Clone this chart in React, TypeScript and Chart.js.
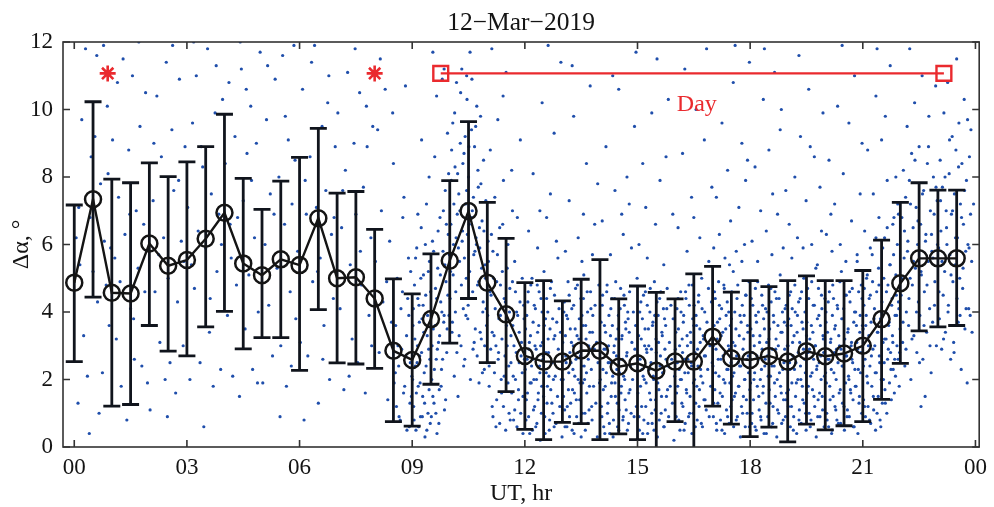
import React, { useEffect, useRef } from "react";
import { Chart, registerables } from "chart.js";

Chart.register(...registerables);

// ---- data ----
const hours = [
  0, 0.5, 1, 1.5, 2, 2.5, 3, 3.5, 4, 4.5, 5, 5.5, 6, 6.5, 7, 7.5, 8, 8.5, 9, 9.5, 10, 10.5, 11, 11.5,
  12, 12.5, 13, 13.5, 14, 14.5, 15, 15.5, 16, 16.5, 17, 17.5, 18, 18.5, 19, 19.5, 20, 20.5, 21, 21.5,
  22, 22.5, 23, 23.5,
];
const meanValues = [
  4.87, 7.34, 4.57, 4.55, 6.03, 5.37, 5.54, 6.17, 6.94, 5.44, 5.09, 5.56, 5.39, 6.78, 5.0, 5.03, 4.4, 2.85,
  2.58, 3.79, 5.52, 6.99, 4.87, 3.93, 2.7, 2.53, 2.53, 2.86, 2.85, 2.38, 2.48, 2.26, 2.53, 2.53, 3.27, 2.63,
  2.58, 2.7, 2.53, 2.84, 2.69, 2.77, 3.0, 3.79, 4.85, 5.59, 5.59, 5.59,
];
const upperValues = [
  7.17, 10.23, 7.94, 7.83, 8.42, 8.01, 8.45, 8.9, 9.86, 7.96, 7.04, 7.88, 8.58, 9.44, 7.52, 7.57, 6.45, 4.98,
  4.54, 5.72, 7.89, 9.64, 7.25, 6.18, 4.87, 4.93, 4.33, 4.97, 5.55, 4.39, 4.77, 4.58, 4.39, 5.13, 5.35, 4.59,
  4.93, 4.75, 4.93, 5.07, 4.93, 4.93, 5.23, 6.13, 7.25, 7.83, 7.61, 7.61,
];
const lowerValues = [
  2.53, 4.44, 1.21, 1.26, 3.6, 2.84, 2.7, 3.56, 4.02, 2.91, 3.24, 3.24, 2.27, 4.07, 2.49, 2.46, 2.33, 0.75,
  0.62, 1.86, 3.08, 4.4, 2.5, 1.64, 0.52, 0.22, 0.73, 0.69, 0.22, 0.39, 0.22, -0.5, 0.75, -0.5, 1.21, 0.68,
  0.31, 0.59, 0.15, 0.68, 0.51, 0.63, 0.75, 1.41, 2.48, 3.44, 3.56, 3.6,
];
const xTickValues = [0, 3, 6, 9, 12, 15, 18, 21, 24];
const xTickLabels = ["00", "03", "06", "09", "12", "15", "18", "21", "00"];
const yTickValues = [0, 2, 4, 6, 8, 10, 12];
const starHours = [0.89, 8.0];
const starLevel = 11.07;
const dayHours = [9.76, 23.16];
const dayLevel = 11.07;
const dayLabelX = 16.58;
const dayLabelY = 10.13;
const dayLabelText = "Day";
const titleText = "12\u2212Mar\u22122019";
const xTitleText = "UT, hr";
const yTitleText = "\u0394\u03b1, \u00b0";

// individual samples, one string per UT hour: "hundredths-of-hour:value"
const samplesByHour = [
  "5:6.2 10:1.3 15:5.4 20:9.7 25:3.3 30:11.8 35:2.1 40:0.4 45:8.6 50:5.2 55:9.2 60:11.6 62:4.3 70:7.8 75:2.2 78:11.9 80:6.1 85:4.8 90:8.1 93:3.6 97:5.9 12:7.1 42:6.8 66:1.0 88:10.1",
  "2:9.1 8:5.6 12:3.2 18:7.4 25:1.8 30:11.5 35:6.3 40:0.8 45:8.8 50:4.1 55:11.0 60:2.6 65:7.0 70:5.3 75:9.5 80:2.4 85:6.6 90:10.5 95:1.9 22:4.9 58:3.8 72:12.0 88:4.6 15:10.8 48:6.9",
  "2:1.1 10:7.3 15:4.6 20:10.4 28:3.1 32:8.6 38:6.2 45:11.4 50:5.0 55:2.5 60:9.4 65:7.6 70:1.6 75:4.3 80:10.9 85:6.1 90:3.0 95:8.9 25:5.7 42:2.0 62:11.9 78:7.9 92:5.5 12:9.0 48:0.9",
  "2:7.1 8:2.0 15:9.6 20:4.7 25:11.0 30:6.4 35:2.5 42:8.3 50:5.9 55:11.8 60:3.4 65:7.5 70:1.8 75:9.9 80:5.2 85:6.9 90:2.3 95:10.3 12:5.4 38:8.9 62:4.4 78:11.3 92:6.0 45:0.6 18:12.0",
  "2:8.4 8:3.9 12:10.8 18:5.6 22:2.1 28:9.2 35:6.8 40:1.5 45:11.2 50:7.3 55:3.5 60:8.7 65:5.1 70:10.1 75:2.3 80:6.2 85:9.0 90:4.0 95:11.7 32:4.8 58:10.6 72:7.9 88:1.9 15:6.6 42:12.0",
  "2:1.9 8:6.0 12:9.7 18:4.2 22:7.5 28:2.7 35:10.9 40:5.3 45:8.0 50:3.0 55:11.6 60:6.6 65:1.8 70:9.1 75:4.6 80:7.2 85:11.9 90:3.8 95:5.8 32:6.9 48:0.9 62:9.8 78:2.4 15:11.3 88:8.5",
  "2:3.1 8:10.6 12:0.8 18:6.9 22:2.7 28:8.6 35:4.9 40:11.9 45:7.1 50:1.3 55:5.6 60:9.5 65:3.6 70:7.6 75:10.2 80:2.0 85:6.3 90:4.4 95:8.9 32:11.4 48:5.2 62:2.6 78:11.0 92:6.8 15:7.9",
  "2:9.9 8:4.1 12:6.5 18:1.7 22:8.2 28:11.1 35:5.4 40:3.2 45:9.0 50:6.9 55:2.5 60:10.5 65:4.8 70:7.7 75:1.6 80:8.9 85:3.9 90:6.2 95:9.5 32:2.1 48:11.8 62:5.8 78:10.1 92:3.0 15:7.6",
  "2:5.5 8:9.4 12:2.8 18:7.0 22:4.3 28:10.6 35:1.4 40:6.1 45:3.7 50:8.4 55:2.2 60:5.0 65:0.9 70:4.1 75:6.8 80:1.8 85:3.3 90:5.6 95:2.5 32:4.9 48:9.9 62:3.0 78:7.4 92:0.6 15:11.5 58:1.2 72:2.9 88:4.4 98:1.5 82:10.7",
  "2:3.6 4:1.2 6:4.8 8:2.4 10:0.5 12:5.9 14:3.0 16:1.8 18:4.2 20:2.7 22:0.9 24:6.5 26:3.8 28:1.5 30:5.1 32:2.2 34:0.3 36:4.5 38:7.2 40:3.3 42:1.0 44:2.9 46:5.5 48:0.7 50:4.0 52:2.0 54:6.1 56:3.5 58:1.3 60:8.6 62:4.7 64:2.6 66:0.4 68:5.3 70:3.1 72:1.7 74:6.8 76:4.3 78:2.3 80:10.9 82:5.8 84:3.7 86:1.1 88:7.6 90:4.9 92:2.8 94:9.3 96:6.3 98:3.9 55:11.7 25:9.1 45:8.0 65:10.4 85:11.2 15:6.9",
  "2:5.2 4:7.9 6:3.4 8:9.6 10:6.0 12:2.1 14:8.3 16:4.6 18:10.8 20:6.9 22:1.5 24:7.5 26:5.5 28:9.0 30:3.0 32:11.2 34:6.4 36:4.1 38:8.7 40:2.6 42:7.2 44:5.0 46:10.3 48:3.8 50:8.0 52:6.6 54:11.7 56:4.4 58:9.4 60:7.0 62:2.9 64:5.7 66:8.9 68:3.5 70:6.2 72:10.1 74:4.8 76:7.7 78:1.9 80:5.9 82:9.8 84:3.2 86:6.7 88:4.0 90:8.5 92:2.3 94:5.4 96:7.3 98:3.6 45:11.0",
  "2:6.1 5:2.4 8:8.8 10:4.5 13:1.2 15:5.8 18:3.3 20:7.4 23:0.6 25:4.9 28:9.7 30:2.8 33:6.5 35:3.9 38:1.6 40:5.2 43:7.9 45:2.1 48:4.3 50:11.1 53:3.0 55:6.0 58:1.0 60:4.7 63:2.5 65:8.2 68:3.6 70:0.8 73:5.5 75:2.0 78:4.0 80:6.8 83:1.4 85:3.4 88:9.1 90:2.7 93:5.0 95:0.4 98:3.8 42:10.4 12:11.8 67:7.0",
  "1:2.3 3:0.8 5:3.9 7:1.6 9:4.6 11:2.9 13:0.4 15:3.3 17:1.9 19:5.0 21:2.6 23:1.1 25:4.2 27:3.0 29:0.6 31:2.0 33:4.8 35:1.4 37:3.6 39:2.4 41:0.2 43:4.4 45:1.8 47:3.1 49:2.7 51:5.2 53:0.9 55:3.8 57:2.2 59:1.3 61:4.0 63:2.8 65:0.5 67:3.5 69:1.7 71:4.9 73:2.5 75:1.0 77:3.2 79:4.5 81:2.1 83:0.7 85:3.7 87:1.5 89:2.9 91:4.1 93:1.2 95:3.4 97:2.0 99:0.3 10:6.4 22:8.1 34:5.9 46:10.2 58:6.8 68:7.5 78:9.3 88:5.6 96:11.4 40:7.0 62:11.9 84:6.1",
  "1:3.1 3:1.5 5:4.3 7:0.6 9:2.7 11:3.9 13:1.2 15:4.9 17:2.2 19:0.9 21:3.5 23:2.5 25:4.1 27:1.7 29:3.0 31:0.4 33:2.1 35:4.7 37:1.4 39:3.3 41:2.8 43:0.7 45:3.8 47:1.9 49:4.4 51:2.4 53:1.0 55:3.6 57:5.1 59:2.0 61:0.5 63:3.2 65:1.6 67:4.0 69:2.6 71:1.1 73:3.4 75:4.6 77:2.3 79:0.8 81:3.9 83:1.8 85:2.9 87:4.2 89:1.3 91:3.1 93:0.3 95:2.5 97:4.8 99:1.9 8:5.8 18:7.3 30:9.8 42:6.2 52:5.5 64:8.4 74:10.7 86:6.6 94:7.8 26:11.3 56:6.9 80:5.7",
  "1:2.0 3:3.7 5:0.9 7:4.5 9:1.7 11:2.9 13:0.4 15:3.4 17:2.2 19:4.8 21:1.3 23:3.0 25:0.7 27:2.5 29:4.1 31:1.9 33:3.6 35:0.3 37:2.8 39:4.4 41:1.5 43:3.2 45:2.3 47:0.6 49:3.9 51:1.1 53:2.6 55:4.7 57:1.8 59:3.3 61:0.8 63:2.1 65:4.2 67:1.4 69:3.5 71:2.7 73:0.5 75:3.8 77:1.6 79:4.6 81:2.4 83:1.0 85:3.1 87:2.0 89:4.0 91:0.9 93:2.9 95:3.6 97:1.2 99:5.0 6:6.7 16:8.9 28:5.7 40:7.6 50:10.6 62:6.3 72:8.0 84:5.9 92:9.5 34:11.0 58:6.9 78:7.2 96:11.7",
  "1:1.6 3:3.3 5:0.5 7:2.6 9:4.3 11:1.2 13:3.8 15:2.1 17:0.8 19:3.0 21:4.6 23:1.9 25:2.8 27:0.4 29:3.5 31:2.3 33:4.0 35:1.4 37:2.9 39:0.7 41:3.7 43:2.0 45:4.9 47:1.1 49:3.2 51:2.5 53:0.3 55:3.9 57:1.7 59:4.4 61:2.7 63:1.0 65:3.4 67:2.2 69:4.1 71:0.6 73:2.9 75:3.6 77:1.5 79:4.7 81:2.4 83:0.9 85:3.1 87:1.8 89:4.2 91:2.6 93:1.3 95:3.8 97:0.2 99:2.1 4:6.0 14:8.4 26:5.6 38:9.9 48:6.6 60:7.9 70:5.4 82:10.3 94:6.9 22:7.1 52:11.5 76:8.6",
  "1:2.9 3:0.9 5:4.1 7:1.8 9:3.5 11:2.3 13:0.5 15:4.6 17:2.0 19:3.2 21:1.2 23:3.9 25:2.6 27:0.7 29:4.4 31:1.6 33:3.0 35:2.2 37:4.8 39:1.0 41:3.4 43:2.5 45:0.4 47:3.8 49:1.9 51:4.2 53:2.8 55:1.3 57:3.6 59:0.8 61:2.4 63:4.5 65:1.7 67:3.1 69:2.1 71:5.0 73:0.6 75:3.3 77:1.4 79:4.0 81:2.7 83:1.1 85:3.7 87:2.3 89:4.7 91:0.9 93:3.0 95:1.8 97:4.3 99:2.5 8:6.5 20:8.7 32:5.8 44:7.4 56:10.0 66:6.2 78:9.1 90:5.5 98:7.7 26:11.2 50:6.8 84:11.8",
  "1:2.4 2:0.9 4:3.6 6:1.7 7:4.4 9:2.9 11:0.5 12:3.2 14:1.3 16:4.9 17:2.1 19:3.8 21:0.8 22:2.6 24:4.1 26:1.5 27:3.4 29:2.0 31:4.7 32:0.4 34:2.8 36:3.9 37:1.1 39:4.3 41:2.3 42:3.0 44:0.7 46:1.9 47:3.6 49:2.5 51:4.6 52:1.4 54:3.1 56:0.6 57:2.2 59:4.0 61:1.6 62:3.5 64:2.7 66:0.9 67:4.8 69:1.8 71:3.3 72:2.4 74:0.3 76:3.7 77:1.2 79:4.2 81:2.9 82:1.5 84:3.9 86:2.0 87:0.6 89:4.5 91:2.6 92:1.0 94:3.4 96:2.2 97:4.9 99:1.7 3:5.9 10:7.4 18:6.3 25:9.6 33:5.6 40:8.2 48:6.7 55:10.8 63:5.8 70:7.1 78:9.0 85:6.0 93:8.5 98:11.4 45:5.4 60:11.9 88:7.9",
  "1:1.9 2:3.5 4:0.7 6:2.8 7:4.2 9:1.4 11:3.0 12:2.2 14:4.7 16:0.5 17:3.7 19:1.8 21:2.6 22:4.0 24:1.1 26:3.3 27:2.0 29:0.8 31:4.5 32:2.9 34:1.6 36:3.8 37:0.4 39:2.4 41:4.1 42:1.3 44:3.1 46:2.7 47:0.9 49:4.8 51:1.7 52:3.5 54:2.1 56:4.3 57:0.6 59:2.9 61:1.2 62:3.9 64:2.4 66:4.6 67:1.5 69:3.2 71:0.3 72:2.0 74:3.6 76:1.0 77:4.4 79:2.6 81:1.8 82:3.4 84:0.7 86:4.0 87:2.3 89:1.4 91:3.7 92:2.9 94:0.9 96:4.2 97:1.6 99:3.0 5:6.1 13:8.3 20:5.5 28:7.0 35:10.3 43:6.4 50:8.8 58:5.7 65:11.1 73:6.9 80:9.4 88:5.9 95:7.6 38:11.8 60:7.5 83:10.0",
  "1:3.0 2:1.2 4:4.5 6:2.3 7:0.6 9:3.6 11:1.9 12:4.1 14:2.7 16:0.9 17:3.3 19:4.8 21:1.5 22:2.5 24:0.4 26:3.9 27:2.0 29:4.3 31:1.1 32:3.1 34:2.4 36:0.7 37:4.6 39:1.8 41:3.5 42:2.9 44:1.3 46:4.0 47:2.2 49:0.5 51:3.7 52:1.6 54:2.8 56:4.4 57:1.0 59:3.2 61:2.1 62:0.8 64:4.9 66:1.7 67:3.4 69:2.6 71:4.2 72:1.2 74:3.0 76:0.3 77:2.3 79:3.8 81:1.4 82:4.7 84:2.5 86:0.9 87:3.6 89:2.0 91:4.1 92:1.5 94:3.3 96:2.8 97:0.6 99:4.4 4:6.6 11:5.6 19:8.0 26:6.2 34:9.2 41:5.9 49:7.3 56:10.6 64:6.0 71:8.6 79:5.4 86:7.7 94:9.9 30:11.6 60:8.9 90:6.4",
  "1:2.2 2:4.0 4:1.0 6:3.4 7:2.6 9:0.6 11:4.6 12:1.8 14:3.1 16:2.3 17:0.4 19:3.9 21:1.5 22:4.4 24:2.8 26:1.2 27:3.6 29:2.0 31:0.8 32:4.2 34:2.5 36:3.3 37:1.6 39:4.9 41:0.7 42:2.9 44:3.8 46:1.3 47:2.4 49:4.1 51:0.5 52:3.2 54:1.9 56:4.5 57:2.7 59:1.1 61:3.5 62:2.1 64:0.9 66:4.3 67:1.7 69:3.0 71:2.6 72:4.7 74:1.4 76:3.7 77:0.6 79:2.3 81:4.0 82:1.8 84:3.1 86:2.9 87:0.4 89:4.6 91:1.5 92:3.4 94:2.2 96:4.8 97:1.0 99:3.6 3:6.3 10:8.5 18:5.8 25:7.2 33:10.1 40:6.0 48:8.1 55:5.5 63:9.6 70:6.7 78:11.0 85:5.7 93:7.5 98:9.0 45:11.9 15:6.9",
  "1:3.5 2:1.4 4:4.7 6:2.6 7:0.9 9:3.9 11:2.1 12:5.1 14:1.2 16:3.3 17:4.4 19:2.4 21:0.7 22:3.7 24:1.8 26:4.9 27:2.9 29:1.1 31:4.1 32:3.0 34:0.5 36:2.2 37:4.6 39:3.4 41:1.5 42:5.3 44:2.7 46:0.8 47:3.8 49:2.0 51:4.3 52:1.3 54:3.1 56:5.0 57:2.5 59:1.7 61:4.0 62:3.2 64:1.0 66:2.6 67:4.8 69:3.6 71:1.9 72:5.4 74:2.8 76:1.4 77:4.2 79:3.3 81:2.3 82:5.7 84:1.6 86:3.9 87:2.1 89:4.5 91:3.0 92:6.0 94:2.6 96:4.1 97:1.8 99:3.5 5:6.4 13:8.8 20:5.9 28:7.5 35:10.4 43:6.8 50:9.1 58:6.2 65:7.9 73:11.3 80:6.6 88:8.0 95:6.9 38:11.8 60:9.8",
  "2:4.5 4:6.8 6:3.1 8:8.2 10:5.6 12:2.4 14:7.4 16:4.0 18:9.5 20:6.1 22:3.6 24:7.9 26:5.0 28:2.0 30:8.7 32:4.8 34:6.5 36:3.3 38:10.2 40:5.3 42:7.1 44:2.8 46:6.0 48:4.3 50:8.9 52:3.9 54:6.6 56:5.1 58:11.0 60:2.6 62:7.6 64:4.6 66:1.5 68:6.3 70:3.4 72:8.4 74:5.5 76:9.8 78:4.1 80:7.0 82:2.2 84:5.8 86:3.7 88:8.0 90:6.9 92:4.9 94:10.7 96:3.0 98:7.3 25:11.8 55:1.2",
  "2:5.9 4:3.8 6:8.5 8:6.4 10:2.9 12:7.7 14:4.5 16:9.9 18:5.2 20:3.4 22:7.0 24:6.0 26:10.8 28:4.2 30:8.1 32:5.7 34:2.6 36:6.9 38:9.2 40:4.9 42:3.1 44:7.5 46:5.4 48:8.8 50:11.5 52:6.2 54:3.7 56:9.6 58:5.0 60:7.2 62:2.3 64:8.4 66:4.7 68:6.6 70:10.3 72:3.5 74:5.8 76:7.9 78:1.9 80:6.0 82:4.1 84:8.6 86:3.9 88:9.4 90:5.5",
];

// additional samples in the dense part of the record, hours 8..23
const denseStartHour = 8;
const denseSamplesByHour = [
  "52:1.9 56:3.6 64:2.4 68:0.8 74:4.6 77:1.6 83:2.7 86:0.5 91:3.9 94:1.3 96:5.2 99:2.1",
  "1:2.0 3:4.1 5:0.8 7:3.2 9:5.6 11:1.6 13:2.5 15:4.4 17:0.6 19:3.7 21:1.9 23:5.0 25:2.8 27:0.9 29:4.2 31:3.4 33:1.3 35:6.0 37:2.4 39:0.5 41:3.9 43:5.2 45:1.7 47:2.6 49:4.6 51:0.9 53:3.0 55:1.5 57:5.8 59:2.3 61:3.6 63:1.0 65:4.4 67:2.9 69:6.4 71:0.7 73:3.3 75:5.1 77:1.8 79:4.0 81:2.6 83:7.0 85:3.9 87:5.4 89:1.4 91:6.6 93:3.5 95:4.5 97:8.1 99:5.7",
  "1:4.4 3:6.6 5:8.8 7:3.7 9:5.1 11:7.2 13:9.9 15:4.0 17:6.2 19:2.8 21:8.1 23:5.9 25:3.3 27:7.0 29:10.5 31:4.8 33:6.1 35:8.4 37:2.4 39:5.6 41:9.2 43:3.9 45:7.6 47:6.3 49:4.2 51:8.9 53:5.2 55:2.0 57:6.8 59:10.9 61:4.6 63:7.4 65:3.1 67:5.8 69:9.5 71:6.0 73:2.7 75:8.2 77:4.9 79:6.5 81:3.4 83:7.8 85:5.3 87:2.2 89:4.3 91:6.4 93:3.0 95:5.0 97:4.1 99:2.5",
  "1:3.9 3:5.5 5:1.8 7:4.6 9:2.9 11:6.3 13:3.4 15:0.9 17:5.0 19:2.2 21:4.1 23:3.0 25:1.4 27:5.7 29:2.6 31:3.8 33:0.7 35:4.8 37:2.0 39:3.2 41:6.6 43:1.2 45:4.4 47:2.7 49:0.5 51:3.6 53:5.3 55:1.9 57:2.4 59:4.0 61:0.8 63:3.3 65:1.6 67:4.9 69:2.1 71:3.0 73:1.1 75:4.6 77:2.8 79:0.6 81:3.9 83:1.7 85:2.5 87:4.3 89:1.0 91:3.1 93:2.2 95:1.5 97:4.2 99:2.6",
  "2:3.5 4:1.4 6:2.6 8:4.3 10:0.9 12:3.1 14:1.9 16:4.8 18:2.4 20:0.5 22:3.7 24:2.0 26:1.2 28:4.1 30:2.9 32:0.7 34:3.4 36:1.6 38:4.6 40:2.2 42:3.0 44:1.0 46:4.0 48:2.6 50:1.5 52:3.6 54:0.4 56:2.8 58:4.4 60:1.8 62:3.2 64:2.1 66:0.8 68:4.7 70:2.5 72:1.3 74:3.8 76:2.0 78:0.6 80:3.3",
  "2:2.0 4:4.0 6:1.1 8:3.3 10:2.5 12:0.6 14:3.8 16:1.7 18:4.5 20:2.8 22:1.3 24:3.1 26:0.5 28:2.3 30:4.2 32:1.6 34:3.5 36:2.6 38:0.9 40:4.8 42:2.0 44:3.2 46:1.4 48:2.7 50:0.3 52:3.9 54:1.9 56:4.4 58:2.4 60:1.0 62:3.6 64:2.2 66:4.6 68:0.7 70:3.0 72:1.8 74:2.9 76:4.1 78:1.2 80:3.4",
  "2:3.1 4:1.2 6:4.2 8:2.3 10:0.6 12:3.6 14:1.8 16:2.9 18:4.6 20:1.0 22:2.5 24:3.9 26:0.4 28:3.3 30:1.5 32:4.4 34:2.1 36:0.8 38:3.0 40:1.9 42:4.9 44:2.7 46:1.3 48:3.5 50:0.5 52:2.2 54:4.1 56:1.6 58:3.2 60:2.6 62:0.9 64:4.5 66:2.0 68:3.7 70:1.1 72:2.8 74:4.0 76:0.7 78:3.4 80:1.7",
  "2:2.7 4:0.9 6:4.0 8:1.8 10:3.2 12:2.3 14:0.4 16:4.5 18:2.0 20:3.5 22:1.2 24:2.9 26:4.2 28:0.7 30:3.0 32:1.6 34:4.7 36:2.5 38:1.0 40:3.6 42:2.1 44:0.5 46:3.9 48:1.4 50:2.8 52:4.3 54:1.9 56:3.1 58:0.8 60:2.4 62:4.6 64:1.5 66:3.3 68:2.2 70:0.6 72:3.8 74:1.1 76:2.6 78:4.1 80:1.7",
  "2:3.4 4:1.6 6:2.5 8:4.4 10:0.8 12:3.0 14:2.0 16:4.0 18:1.3 20:2.8 22:3.7 24:0.5 26:2.2 28:4.6 30:1.7 32:3.3 34:2.6 36:0.9 38:4.2 40:1.5 42:3.1 44:2.4 46:4.8 48:1.0 50:3.6 52:2.0 54:0.6 56:3.9 58:1.8 60:2.9 62:4.3 64:1.2 66:3.5 68:2.3 70:0.7 72:4.1 74:1.9 76:3.2 78:2.7 80:1.4",
  "2:3.0 3:1.3 5:4.6 8:2.2 10:0.7 13:3.7 15:2.6 18:4.2 20:1.6 23:3.3 25:0.5 28:2.7 30:4.8 33:1.9 35:3.5 38:2.3 40:0.9 43:4.0 45:2.9 48:1.2 50:3.8 53:2.1 55:5.2 58:1.5 60:3.0 63:0.8 65:4.4 68:2.5 70:1.8 73:3.9 75:2.4 78:5.5 80:1.0 83:3.2 85:2.0 88:4.5 90:1.4 93:3.6 95:2.7 98:0.6",
  "2:2.6 3:4.4 5:1.0 8:3.3 10:2.0 13:0.6 15:3.9 18:2.7 20:4.9 23:1.5 25:3.1 28:0.9 30:2.3 33:4.2 35:1.8 38:3.5 40:2.6 43:0.4 45:4.0 48:2.1 50:3.2 53:1.3 55:4.7 58:2.4 60:0.7 63:3.7 65:1.9 68:2.9 70:4.4 73:1.1 75:3.0 78:2.2 80:5.1 83:1.6 85:3.4 88:0.8 90:2.5 93:4.1 95:1.4 98:3.6",
  "2:1.7 3:3.8 5:2.5 8:4.6 10:1.2 13:3.1 15:0.5 18:2.3 20:4.0 23:1.9 25:3.4 28:2.8 30:0.8 33:4.4 35:2.0 38:3.7 40:1.4 43:5.0 45:2.6 48:1.0 50:3.3 53:4.7 55:1.8 58:2.9 60:0.6 63:3.6 65:2.2 68:4.2 70:1.5 73:3.0 75:5.3 78:2.4 80:0.9 83:3.9 85:1.6 88:2.7 90:4.5 93:1.1 95:3.2 98:2.1",
  "2:3.7 3:1.9 5:0.8 8:4.3 10:2.6 13:1.4 15:3.2 18:0.5 20:4.8 23:2.2 25:3.5 28:1.1 30:2.9 33:4.1 35:0.7 38:3.0 40:1.7 43:5.2 45:2.4 48:3.8 50:1.2 53:4.5 55:2.7 58:0.9 60:3.4 63:2.0 65:4.6 68:1.6 70:3.1 73:2.5 75:0.6 78:4.0 80:1.8 83:3.6 85:5.5 88:2.3 90:1.3 93:3.9 95:2.8 98:4.4",
  "2:2.4 3:4.2 5:1.2 8:3.6 10:5.0 13:1.9 15:3.0 18:0.8 20:4.5 23:2.7 25:5.7 28:1.5 30:3.8 33:2.2 35:6.2 38:1.0 40:3.4 43:4.8 45:2.5 48:0.6 50:4.0 53:5.9 55:2.0 58:3.2 60:1.3 63:4.6 65:6.5 68:2.9 70:3.7 73:5.4 75:2.3 78:4.4 80:3.1 83:6.8 85:2.6 88:5.1 90:3.9 93:7.2 95:4.3 98:2.8",
  "3:5.0 7:3.7 11:6.4 15:2.9 19:5.8 23:4.4 27:7.2 31:3.2 35:5.5 39:8.5 43:4.0 47:6.7 51:2.5 55:5.2 59:7.5 63:3.6 67:6.1 71:4.8 75:8.9 79:3.0 83:6.3 87:5.6 91:4.2 95:7.7 99:6.0",
  "3:4.6 7:7.3 11:5.5 15:3.2 19:8.0 23:6.5 27:4.0 31:9.1 35:5.1 39:7.0 43:2.8 47:6.2 51:4.4 55:8.3 59:3.9 63:6.8 67:5.3 71:7.6 75:4.1 79:9.7 83:5.9 87:6.9 91:3.4 95:7.2",
];

// ---- styles ----
const SERIF = "'Liberation Serif', 'Times New Roman', serif";
const INK = "#141414";
const BAR = "#10141c";
const RED = "#ea2a2e";
const DOT = "#1f4eab";

function parseSamples() {
  const pts: { x: number; y: number }[] = [];
  const add = (row: string, h: number) => {
    row.split(" ").forEach((tok) => {
      const [d, v] = tok.split(":");
      pts.push({ x: h + Number(d) / 100, y: Number(v) });
    });
  };
  samplesByHour.forEach((row, h) => add(row, h));
  denseSamplesByHour.forEach((row, i) => add(row, denseStartHour + i));
  return pts;
}

export default function App() {
  const ref = useRef<HTMLCanvasElement | null>(null);

  useEffect(() => {
    const canvas = ref.current;
    if (!canvas) return;

    const decorPlugin = {
      id: "decor",
      afterDatasetDraw(chart: any, args: any) {
        if (args.index !== 0) return;
        const { ctx, chartArea: a } = chart;
        const xs = chart.scales.x;
        const ys = chart.scales.y;
        ctx.save();
        ctx.beginPath();
        ctx.rect(a.left, a.top, a.right - a.left, a.bottom - a.top);
        ctx.clip();
        ctx.strokeStyle = BAR;
        ctx.lineWidth = 2.8;
        const cap = 8.5;
        hours.forEach((h, i) => {
          const px = xs.getPixelForValue(h);
          const pt = ys.getPixelForValue(upperValues[i]);
          const pb = ys.getPixelForValue(lowerValues[i]);
          ctx.beginPath();
          ctx.moveTo(px, pt);
          ctx.lineTo(px, pb);
          ctx.moveTo(px - cap, pt);
          ctx.lineTo(px + cap, pt);
          ctx.moveTo(px - cap, pb);
          ctx.lineTo(px + cap, pb);
          ctx.stroke();
        });
        ctx.restore();
      },
      afterDraw(chart: any) {
        const { ctx, chartArea: a } = chart;
        const xs = chart.scales.x;
        const ys = chart.scales.y;
        ctx.save();
        ctx.strokeStyle = "#333";
        ctx.lineWidth = 1.6;
        ctx.strokeRect(a.left, a.top, a.right - a.left, a.bottom - a.top);
        const tl = 7;
        ctx.beginPath();
        xTickValues.forEach((v) => {
          const px = xs.getPixelForValue(v);
          ctx.moveTo(px, a.bottom);
          ctx.lineTo(px, a.bottom - tl);
          ctx.moveTo(px, a.top);
          ctx.lineTo(px, a.top + tl);
        });
        yTickValues.forEach((v) => {
          const py = ys.getPixelForValue(v);
          ctx.moveTo(a.left, py);
          ctx.lineTo(a.left + tl, py);
          ctx.moveTo(a.right, py);
          ctx.lineTo(a.right - tl, py);
        });
        ctx.stroke();

        ctx.fillStyle = INK;
        ctx.textAlign = "center";
        ctx.textBaseline = "alphabetic";
        const cx = (a.left + a.right) / 2;
        ctx.font = `25.5px ${SERIF}`;
        ctx.fillText(titleText, cx, 30);
        ctx.font = `24px ${SERIF}`;
        ctx.fillText(xTitleText, cx, 500);
        ctx.save();
        ctx.translate(28, (a.top + a.bottom) / 2);
        ctx.rotate(-Math.PI / 2);
        ctx.fillText(yTitleText, 0, 0);
        ctx.restore();

        ctx.fillStyle = RED;
        ctx.textBaseline = "middle";
        ctx.fillText(dayLabelText, xs.getPixelForValue(dayLabelX), ys.getPixelForValue(dayLabelY));
        ctx.restore();
      },
    };

    const chart = new Chart(canvas, {
      type: "scatter",
      data: {
        datasets: [
          {
            type: "scatter",
            data: parseSamples(),
            pointRadius: 1.6,
            pointHoverRadius: 1.6,
            backgroundColor: DOT,
            borderWidth: 0,
            order: 10,
          } as any,
          {
            type: "line",
            data: hours.map((h, i) => ({ x: h, y: meanValues[i] })),
            borderColor: INK,
            borderWidth: 2.4,
            tension: 0,
            pointRadius: 8,
            pointBorderWidth: 2.5,
            pointBorderColor: INK,
            pointBackgroundColor: "rgba(0,0,0,0)",
            order: 2,
          } as any,
          {
            type: "line",
            data: dayHours.map((h) => ({ x: h, y: dayLevel })),
            borderColor: RED,
            borderWidth: 2.4,
            pointStyle: "rect",
            pointRadius: 10.5,
            pointBorderWidth: 2.4,
            pointBorderColor: RED,
            pointBackgroundColor: "rgba(0,0,0,0)",
            order: 1,
          } as any,
          {
            type: "scatter",
            data: starHours.map((h) => ({ x: h, y: starLevel })),
            pointStyle: "star",
            pointRadius: 8,
            borderColor: RED,
            borderWidth: 2.6,
            backgroundColor: RED,
            order: 1,
          } as any,
        ],
      },
      options: {
        responsive: false,
        animation: false,
        devicePixelRatio: 1,
        events: [],
        layout: { padding: { top: 42, right: 10, left: 0, bottom: 0 } },
        plugins: { legend: { display: false }, tooltip: { enabled: false }, title: { display: false } },
        scales: {
          x: {
            type: "linear",
            min: -0.3,
            max: 24.1,
            grid: { display: false, drawTicks: false },
            border: { display: false },
            afterBuildTicks: (s: any) => {
              s.ticks = xTickValues.map((v) => ({ value: v }));
            },
            afterFit: (s: any) => {
              s.height = 60;
            },
            ticks: {
              autoSkip: false,
              maxRotation: 0,
              padding: 7,
              color: INK,
              font: { family: SERIF, size: 23 },
              callback: (_v: any, i: number) => xTickLabels[i],
            },
          },
          y: {
            type: "linear",
            min: 0,
            max: 12,
            grid: { display: false, drawTicks: false },
            border: { display: false },
            afterBuildTicks: (s: any) => {
              s.ticks = yTickValues.map((v) => ({ value: v }));
            },
            afterFit: (s: any) => {
              s.width = 63;
            },
            ticks: {
              padding: 10,
              color: INK,
              font: { family: SERIF, size: 23 },
              callback: (v: any) => String(v),
            },
          },
        },
      } as any,
      plugins: [decorPlugin],
    });

    return () => chart.destroy();
  }, []);

  return (
    <div style={{ position: "fixed", left: 0, top: 0, width: 994, height: 507, background: "#fff" }}>
      <canvas ref={ref} width={994} height={507} style={{ display: "block" }} />
    </div>
  );
}
